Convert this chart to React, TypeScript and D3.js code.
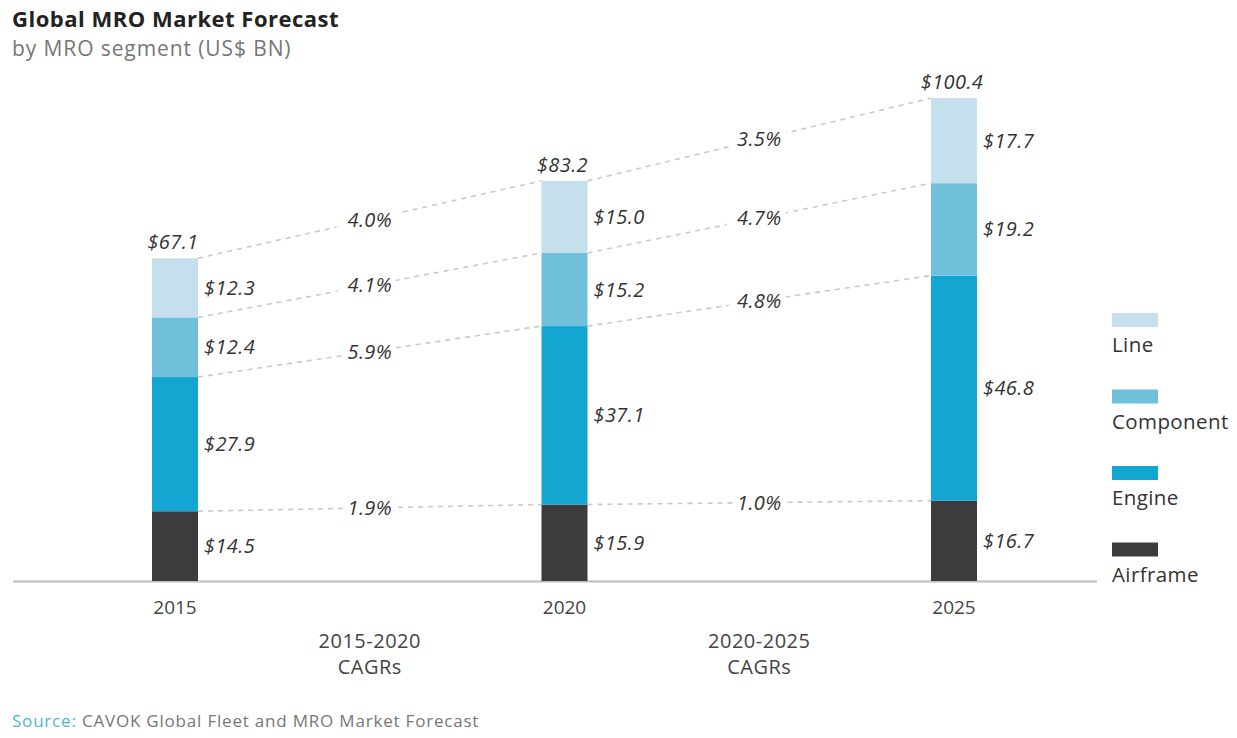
import React from "react";
import * as d3 from "d3";

const years = ["2015", "2020", "2025"];
const airframe = [14.5, 15.9, 16.7];
const engine = [27.9, 37.1, 46.8];
const component = [12.4, 15.2, 19.2];
const lineMro = [12.3, 15.0, 17.7];
const totals = [67.1, 83.2, 100.4];
const segmentNames = ["Airframe", "Engine", "Component", "Line"];
const segmentColors = ["#3c3c3e", "#12a6d1", "#70c0dc", "#c3e0ec"];
// CAGR per boundary (top of Airframe, Engine, Component, Line)
const cagr1520 = ["1.9%", "5.9%", "4.1%", "4.0%"];
const cagr2025 = ["1.0%", "4.8%", "4.7%", "3.5%"];
const periodLabels = [["2015-2020", "CAGRs"], ["2020-2025", "CAGRs"]];

const W = 1237, H = 738;
const FONT = "'Open Sans', 'Noto Sans', sans-serif";

export default function App() {
  const x = d3.scalePoint<string>().domain(years).range([175, 954]);
  const y = d3.scaleLinear().domain([0, 110]).range([581, 581 - 110 * 4.81]);
  const barW = 46;
  const series = [airframe, engine, component, lineMro];
  const stackData = years.map((yr, i) => {
    const o: any = { year: yr };
    segmentNames.forEach((n, k) => (o[n] = series[k][i]));
    return o;
  });
  const stack = d3.stack<any>().keys(segmentNames)(stackData);

  const dashColor = "#c9c9c9";
  const labelColor = "#333";

  const cagrLines: any[] = [];
  [cagr1520, cagr2025].forEach((labels, p) => {
    labels.forEach((lab, k) => {
      const x1 = x(years[p])! + barW / 2;
      const x2 = x(years[p + 1])! - barW / 2;
      const y1 = y(stack[k][p][1]);
      const y2 = y(stack[k][p + 1][1]);
      cagrLines.push({ x1, x2, y1, y2, lab });
    });
  });

  const lab = { fontFamily: FONT, fontStyle: "italic", fontSize: 20, letterSpacing: 0.4 } as any;

  return (
    <div style={{ position: "absolute", left: 0, top: 0 }}>
      <svg width={W} height={H} style={{ display: "block", background: "#fff" }}>
        <text x={12} y={27} fontFamily={FONT} fontWeight={700} fontSize={22} letterSpacing={0.5} fill="#222">
          Global MRO Market Forecast
        </text>
        <text x={12} y={56} fontFamily={FONT} fontSize={21} letterSpacing={0.9} fill="#777">
          by MRO segment (US$ BN)
        </text>

        {/* axis */}
        <line x1={13} x2={1097} y1={y(0) + 0.5} y2={y(0) + 0.5} stroke="#bdbdbd" strokeWidth={2} />

        {/* CAGR dashed lines */}
        {cagrLines.map((c, i) => (
          <line key={"l" + i} x1={c.x1} x2={c.x2} y1={c.y1} y2={c.y2}
            stroke={dashColor} strokeWidth={1.6} strokeDasharray="5,5" />
        ))}
        {cagrLines.map((c, i) => (
          <text key={"t" + i} x={(c.x1 + c.x2) / 2} y={(c.y1 + c.y2) / 2 + 7}
            textAnchor="middle" {...lab}
            fill={labelColor} stroke="#fff" strokeWidth={12} paintOrder="stroke">
            {c.lab}
          </text>
        ))}

        {/* bars */}
        {stack.map((s, k) =>
          s.map((d, i) => (
            <rect key={k + "-" + i} x={x(years[i])! - barW / 2} y={y(d[1])}
              width={barW} height={y(d[0]) - y(d[1])} fill={segmentColors[k]} />
          ))
        )}

        {/* segment labels */}
        {stack.map((s, k) =>
          s.map((d, i) => (
            <text key={"v" + k + "-" + i} x={x(years[i])! + barW / 2 + 6}
              y={(y(d[0]) + y(d[1])) / 2 + 7} {...lab} fill={labelColor}>
              {"$" + series[k][i].toFixed(1)}
            </text>
          ))
        )}

        {/* totals */}
        {years.map((yr, i) => (
          <text key={"tot" + i} x={x(yr)! - 2} y={y(totals[i]) - 9} textAnchor="middle"
            {...lab} fill={labelColor}>
            {"$" + totals[i].toFixed(1)}
          </text>
        ))}

        {/* year labels */}
        {years.map((yr) => (
          <text key={"y" + yr} x={x(yr)!} y={614} textAnchor="middle" fontFamily={FONT}
            fontSize={19} fill="#444">
            {yr}
          </text>
        ))}

        {/* period labels */}
        {periodLabels.map((pl, p) => {
          const cx = (x(years[p])! + x(years[p + 1])!) / 2;
          return (
            <text key={"p" + p} x={cx} textAnchor="middle" fontFamily={FONT} fontSize={20}
              letterSpacing={0.5} fill="#444">
              <tspan x={cx} y={648}>{pl[0]}</tspan>
              <tspan x={cx} y={674}>{pl[1]}</tspan>
            </text>
          );
        })}

        {/* legend */}
        {[3, 2, 1, 0].map((k, j) => (
          <g key={"lg" + k} transform={`translate(1112, ${313 + j * 76.5})`}>
            <rect x={0} y={0} width={46} height={14} fill={segmentColors[k]} />
            <text x={0} y={39} fontFamily={FONT} fontSize={20.5} letterSpacing={0.4} fill="#333">
              {segmentNames[k]}
            </text>
          </g>
        ))}

        <text x={12} y={727} fontFamily={FONT} fontSize={17} letterSpacing={0.8} fill="#777">
          <tspan fill="#4cb8cc">Source:</tspan> CAVOK Global Fleet and MRO Market Forecast
        </text>
      </svg>
    </div>
  );
}
